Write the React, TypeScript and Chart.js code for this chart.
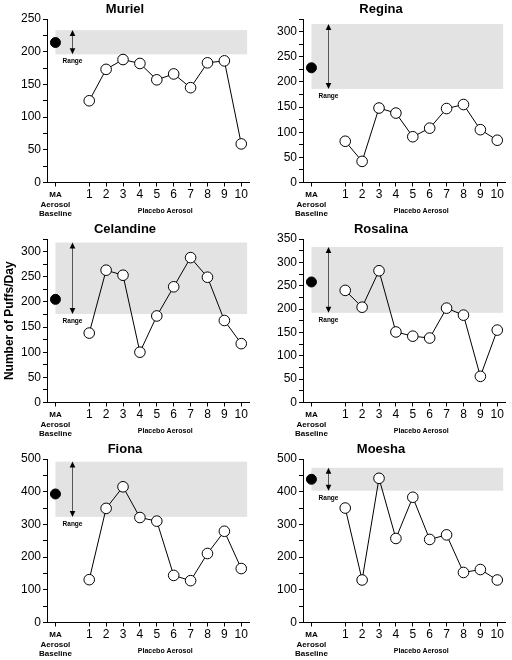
import React, { useEffect, useRef } from 'react';
import { Chart, registerables } from 'chart.js';

Chart.register(...registerables);

const FONT = '"Liberation Sans", Arial, Helvetica, sans-serif';

// ---- Data ----
const SESSIONS = [1, 2, 3, 4, 5, 6, 7, 8, 9, 10];
const BASELINE_POS = -1;
const BASELINE_LABEL = ['MA', 'Aerosol', 'Baseline'];
const X_TITLE = 'Placebo Aerosol';
const Y_TITLE = 'Number of Puffs/Day';
const RANGE_LABEL = 'Range';

const NAMES = ['Muriel', 'Regina', 'Celandine', 'Rosalina', 'Fiona', 'Moesha'];

const MURIEL = [125, 173, 188, 182, 157, 166, 145, 183, 186, 59];
const REGINA = [82, 42, 148, 138, 91, 108, 147, 155, 105, 84];
const CELANDINE = [138, 263, 253, 100, 172, 230, 288, 249, 163, 117];
const ROSALINA = [240, 204, 282, 151, 142, 138, 202, 187, 56, 155];
const FIONA = [131, 349, 415, 321, 310, 144, 128, 211, 279, 165];
const MOESHA = [350, 130, 441, 257, 383, 254, 268, 153, 162, 130];

const BASELINES = [214, 228, 205, 258, 393, 438];
const RANGE_LOW = [196, 186, 176, 192, 323, 403];
const RANGE_HIGH = [233, 315, 318, 333, 492, 473];

const Y_MAX = [250, 325, 325, 350, 500, 500];
const Y_MINOR_STEP = [25, 25, 25, 25, 50, 50];
const Y_LABEL_STEP = [50, 50, 50, 50, 100, 100];

const SERIES = [MURIEL, REGINA, CELANDINE, ROSALINA, FIONA, MOESHA];

const W = 256;
const H = 220;

function Panel({ idx }: { idx: number }) {
  const ref = useRef<HTMLCanvasElement>(null);

  useEffect(() => {
    const vals = SERIES[idx];
    const lo = RANGE_LOW[idx];
    const hi = RANGE_HIGH[idx];
    const labelStep = Y_LABEL_STEP[idx];
    const showYTitle = idx === 2;

    const bandPlugin = {
      id: 'band' + idx,
      beforeDatasetsDraw(chart: any) {
        const { ctx } = chart;
        const x = chart.scales.x;
        const y = chart.scales.y;
        const x0 = x.getPixelForValue(BASELINE_POS);
        const x1 = x.getPixelForValue(10.35);
        const yTop = y.getPixelForValue(hi);
        const yBot = y.getPixelForValue(lo);
        ctx.save();
        ctx.fillStyle = '#e3e3e3';
        ctx.fillRect(x0, yTop, x1 - x0, yBot - yTop);
        const ax = Math.round(x.getPixelForValue(0)) + 0.5;
        ctx.strokeStyle = '#555';
        ctx.lineWidth = 1;
        ctx.beginPath();
        ctx.moveTo(ax, yTop + 4);
        ctx.lineTo(ax, yBot - 4);
        ctx.stroke();
        ctx.fillStyle = '#000';
        ctx.beginPath();
        ctx.moveTo(ax, yTop);
        ctx.lineTo(ax - 2.8, yTop + 6);
        ctx.lineTo(ax + 2.8, yTop + 6);
        ctx.closePath();
        ctx.fill();
        ctx.beginPath();
        ctx.moveTo(ax, yBot);
        ctx.lineTo(ax - 2.8, yBot - 6);
        ctx.lineTo(ax + 2.8, yBot - 6);
        ctx.closePath();
        ctx.fill();
        ctx.font = 'bold 6.5px ' + FONT;
        ctx.textAlign = 'center';
        ctx.textBaseline = 'middle';
        ctx.fillText(RANGE_LABEL, ax, yBot + 7);
        ctx.restore();
      },
      afterDraw(chart: any) {
        const { ctx } = chart;
        const x = chart.scales.x;
        ctx.save();
        ctx.font = 'bold 7px ' + FONT;
        ctx.fillStyle = '#000';
        ctx.textAlign = 'center';
        ctx.textBaseline = 'middle';
        ctx.fillText(X_TITLE, x.getPixelForValue(5.5), chart.height - 9);
        ctx.restore();
      },
    };

    const chart = new Chart(ref.current as HTMLCanvasElement, {
      type: 'line',
      data: {
        datasets: [
          {
            data: SESSIONS.map((s, i) => ({ x: s, y: vals[i] })),
            borderColor: '#000',
            borderWidth: 1,
            pointRadius: 5.3,
            pointBackgroundColor: '#fff',
            pointBorderColor: '#000',
            pointBorderWidth: 1,
            tension: 0,
          },
          {
            data: [{ x: BASELINE_POS, y: BASELINES[idx] }],
            showLine: false,
            pointRadius: 5,
            pointBackgroundColor: '#000',
            pointBorderColor: '#000',
            pointBorderWidth: 1,
          },
        ],
      } as any,
      options: {
        responsive: false,
        animation: false,
        devicePixelRatio: 1,
        layout: { padding: { left: 0, right: 6, top: 0, bottom: 0 } },
        plugins: {
          legend: { display: false },
          tooltip: { enabled: false },
          title: {
            display: true,
            text: NAMES[idx],
            color: '#000',
            font: { family: FONT, size: 13, weight: 'bold' },
            padding: { top: 2, bottom: 1.4 },
          },
        },
        scales: {
          x: {
            type: 'linear',
            min: -1.5,
            max: 10.5,
            afterBuildTicks: (s: any) => {
              s.ticks = [BASELINE_POS, ...SESSIONS].map((v) => ({ value: v }));
            },
            afterFit: (s: any) => {
              s.height = 37.5;
            },
            ticks: {
              autoSkip: false,
              maxRotation: 0,
              minRotation: 0,
              padding: 4,
              color: '#000',
              font: (ctx: any) =>
                ctx.tick && ctx.tick.value === BASELINE_POS
                  ? { family: FONT, size: 8, weight: 'bold', lineHeight: '9.2px' }
                  : { family: FONT, size: 12, lineHeight: '9.2px' },
              callback: (v: any) => (v === BASELINE_POS ? BASELINE_LABEL : String(v)),
            },
            grid: { drawOnChartArea: false, drawTicks: true, tickLength: 4, color: '#000' },
            border: { display: true, color: '#000' },
          },
          y: {
            type: 'linear',
            min: 0,
            max: Y_MAX[idx],
            afterFit: (s: any) => {
              s.width = 47;
            },
            title: {
              display: showYTitle,
              text: Y_TITLE,
              color: '#000',
              font: { family: FONT, size: 12, weight: 'bold' },
              padding: { top: 2, bottom: 0 },
            },
            ticks: {
              stepSize: Y_MINOR_STEP[idx],
              autoSkip: false,
              padding: 2,
              color: '#000',
              font: { family: FONT, size: 12 },
              callback: (v: any) => (Number(v) % labelStep === 0 ? String(v) : ''),
            },
            grid: { drawOnChartArea: false, drawTicks: true, tickLength: 4, color: '#000' },
            border: { display: true, color: '#000' },
          },
        },
      } as any,
      plugins: [bandPlugin],
    });

    return () => chart.destroy();
  }, [idx]);

  const col = idx % 2;
  const row = Math.floor(idx / 2);
  return (
    <canvas
      ref={ref}
      width={W}
      height={H}
      style={{ position: 'absolute', left: col * W, top: row * H, width: W, height: H }}
    />
  );
}

export default function App() {
  return (
    <div style={{ position: 'absolute', left: 0, top: 0, width: 512, height: 660, background: '#fff' }}>
      {NAMES.map((_, i) => (
        <Panel key={i} idx={i} />
      ))}
    </div>
  );
}
